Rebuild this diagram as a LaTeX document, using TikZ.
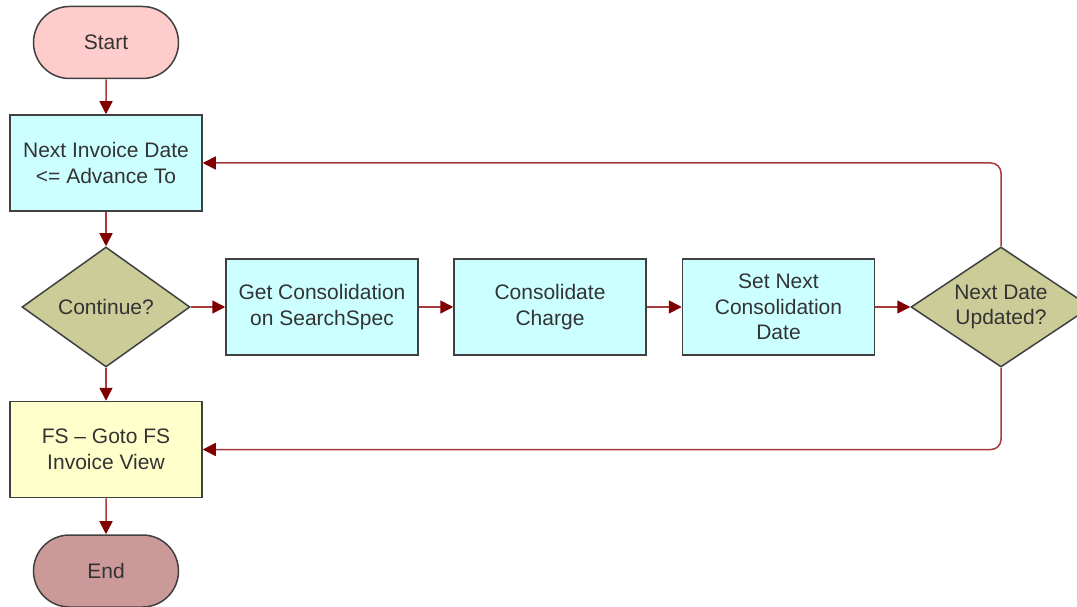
\documentclass[tikz,border=0pt]{standalone}
\usepackage{fontspec}
\setmainfont{Liberation Sans}
\usetikzlibrary{shapes.geometric,shapes.misc,arrows.meta}
\definecolor{startfill}{HTML}{FFCCCC}
\definecolor{endfill}{HTML}{CC9999}
\definecolor{boxfill}{HTML}{CCFFFF}
\definecolor{diafill}{HTML}{CCCC99}
\definecolor{fsfill}{HTML}{FFFFCC}
\definecolor{edgecol}{HTML}{404040}
\definecolor{txtcol}{HTML}{333333}
\definecolor{linecol}{HTML}{A83A3A}
\definecolor{tipcol}{HTML}{800000}
\tikzset{
  base/.style={draw=edgecol, line width=1.5pt, text=txtcol, align=center,
    font=\fontsize{21}{25.5}\selectfont, inner sep=0pt},
  term/.style={base, rounded rectangle, minimum width=145pt, minimum height=72pt},
  procbox/.style={base, rectangle, minimum width=192pt, minimum height=96pt},
  dia/.style={base, diamond, minimum width=168pt, minimum height=120pt},
  lbl/.style={text=txtcol, align=center, font=\fontsize{21}{25.5}\selectfont, inner sep=0pt},
  flow/.style={draw=linecol, line width=1.5pt,
    -{Triangle[length=13pt,width=13pt,fill=tipcol,color=tipcol]}},
  loop/.style={flow, rounded corners=10pt}
}
\begin{document}
\begin{tikzpicture}[x=1pt,y=-1pt]
\useasboundingbox (0,0) rectangle (1077,607);
\node[term, fill=startfill] (start) at (106,42.5) {Start};
\node[procbox, fill=boxfill] (nid) at (106,163) {Next Invoice Date\\<= Advance To};
\node[dia, fill=diafill] (cont) at (106,307) {};
\node[lbl] (contl) at (cont.center) {Continue?};
\node[procbox, fill=boxfill] (get) at (322,307) {Get Consolidation\\on SearchSpec};
\node[procbox, fill=boxfill] (cc) at (550,307) {Consolidate\\Charge};
\node[procbox, fill=boxfill] (snd) at (778.5,307) {Set Next\\Consolidation\\Date};
\node[dia, fill=diafill, minimum width=180pt] (ndu) at (1001,307) {};
\node[lbl] (ndul) at (ndu.center) {Next Date\\Updated?};
\node[procbox, fill=fsfill] (fs) at (106,449.5) {FS – Goto FS\\Invoice View};
\node[term, fill=endfill] (end) at (106,571) {End};
\draw[flow] (start) -- (nid);
\draw[flow] (nid) -- (cont);
\draw[flow] (cont) -- (get);
\draw[flow] (get) -- (cc);
\draw[flow] (cc) -- (snd);
\draw[flow] (snd) -- (ndu);
\draw[flow] (cont) -- (fs);
\draw[flow] (fs) -- (end);
\draw[loop] (ndu.north) |- (nid.east);
\draw[loop] (ndu.south) |- (fs.east);
\end{tikzpicture}
\end{document}
